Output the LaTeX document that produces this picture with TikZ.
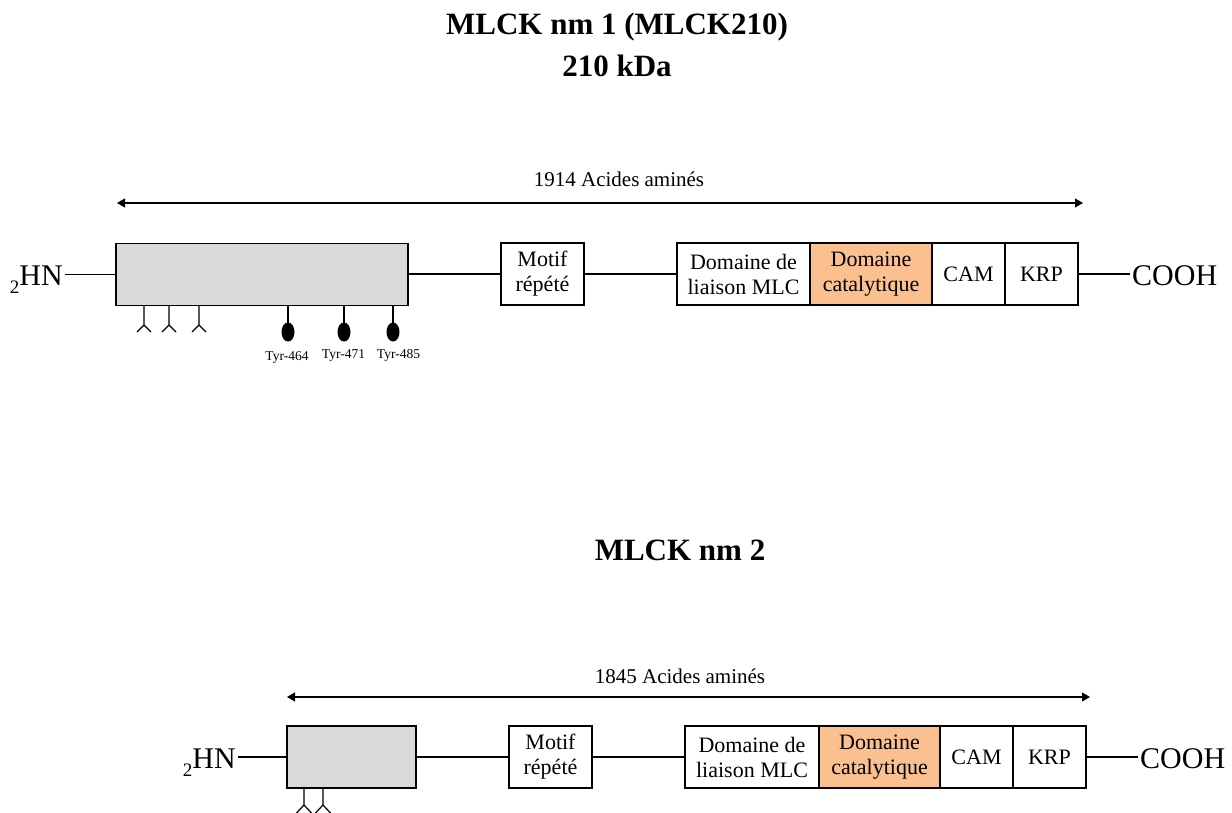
\documentclass[tikz,border=0pt]{standalone}
\usepackage{fontspec}
\setmainfont{Liberation Serif}
\usetikzlibrary{positioning,arrows.meta}
\definecolor{cata}{HTML}{FAC090}
\definecolor{grisbox}{HTML}{D9D9D9}

\begin{document}
\begin{tikzpicture}[x=1pt,y=-1pt,
  dom/.style={draw,line width=1.5pt,fill=white,inner sep=0pt,outer sep=0pt,align=center,
    minimum height=62pt,font=\fontsize{22}{25}\selectfont},
  conn/.style={line width=1.2pt},
  portee/.style={{Triangle[length=8pt,width=9pt]}-{Triangle[length=8pt,width=9pt]},line width=1.2pt},
  titre/.style={font=\fontsize{31}{36}\selectfont\bfseries,inner sep=0pt,anchor=base},
  aa/.style={font=\fontsize{21}{24}\selectfont,inner sep=0pt,anchor=base},
  term/.style={font=\fontsize{30}{32}\selectfont,inner sep=2pt},
  tyr/.style={font=\fontsize{13.5}{15}\selectfont,inner sep=0pt,anchor=base}]
  \useasboundingbox (0,0) rectangle (1232,813);

  % MLCK nm 1
  \node[titre] (titreA) at (617,35) {MLCK nm 1 (MLCK210)};
  \node[titre] (kdaA) at (617,77) {210 kDa};
  \coordinate (debA) at (117,203);
  \coordinate (finA) at (1083,203);
  \draw[portee] (debA) -- (finA);
  \node[aa] (aaA) at (619,187) {1914 Acides aminés};

  \node[term,anchor=base east] (hnA) at (65,286) {\raisebox{-8pt}{\fontsize{19}{19}\selectfont 2}HN};
  \node[dom,fill=grisbox,minimum width=292pt,anchor=west] (grayA) at (116,274.5) {};
  \node[dom,minimum width=83pt,anchor=west] (motifA) at (501,274) {Motif\\répété};
  \node[dom,minimum width=133pt,anchor=west] (liaisonA) at (677,274) {Domaine de\\liaison MLC};
  \node[dom,fill=cata,minimum width=122pt,right=0pt of liaisonA] (catA) {Domaine\\catalytique};
  \node[dom,minimum width=73pt,right=0pt of catA] (camA) {CAM};
  \node[dom,minimum width=73pt,right=0pt of camA] (krpA) {KRP};
  \node[term,anchor=base west] (coohA) at (1130,286) {COOH};

  \draw[conn] (grayA.west) -- (grayA.west -| hnA.east);
  \draw[conn] (motifA.west) -- (motifA.west -| grayA.east);
  \draw[conn] (motifA.east) -- (liaisonA.west);
  \draw[conn] (krpA.east) -- (krpA.east -| coohA.west);

  % glycosylation + phosphotyrosines
  \foreach \x in {144,169,199}
    \draw[conn] (\x,306) -- (\x,325) (\x-7,332) -- (\x,325) -- (\x+7,332);
  \foreach \x in {288,344,393}{
    \draw[conn] (\x,306) -- (\x,323);
    \fill (\x,332) ellipse (6.5pt and 9.5pt);}
  \foreach \x/\y/\t in {287/360/464,343.5/358/471,398.5/358/485}
    \node[tyr] (tyr\t) at (\x,\y) {Tyr-\t};

  % MLCK nm 2
  \node[titre] (titreB) at (680,560) {MLCK nm 2};
  \coordinate (debB) at (287,697);
  \coordinate (finB) at (1090,697);
  \draw[portee] (debB) -- (finB);
  \node[aa] (aaB) at (680,683) {1845 Acides aminés};

  \node[term,anchor=base east] (hnB) at (238,768) {\raisebox{-8pt}{\fontsize{19}{19}\selectfont 2}HN};
  \node[dom,fill=grisbox,minimum width=129pt,anchor=west] (grayB) at (287,757) {};
  \node[dom,minimum width=83pt,anchor=west] (motifB) at (509,757) {Motif\\répété};
  \node[dom,minimum width=134pt,anchor=west] (liaisonB) at (685,757) {Domaine de\\liaison MLC};
  \node[dom,fill=cata,minimum width=121pt,right=0pt of liaisonB] (catB) {Domaine\\catalytique};
  \node[dom,minimum width=73pt,right=0pt of catB] (camB) {CAM};
  \node[dom,minimum width=73pt,right=0pt of camB] (krpB) {KRP};
  \node[term,anchor=base west] (coohB) at (1138,768) {COOH};

  \draw[conn] (grayB.west) -- (grayB.west -| hnB.east);
  \draw[conn] (grayB.east) -- (motifB.west);
  \draw[conn] (motifB.east) -- (liaisonB.west);
  \draw[conn] (krpB.east) -- (krpB.east -| coohB.west);

  \foreach \x in {304,323}
    \draw[conn] (\x,789) -- (\x,805) (\x-7.5,813) -- (\x,805) -- (\x+7.5,813);
\end{tikzpicture}
\end{document}
